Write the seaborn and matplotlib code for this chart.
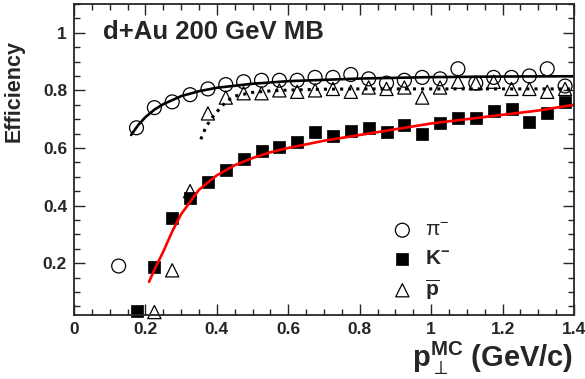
import matplotlib
matplotlib.use("Agg")
import matplotlib.pyplot as plt
from matplotlib.ticker import MultipleLocator, FormatStrFormatter
import pandas as pd
import seaborn as sns

pt_pi = [0.125, 0.175, 0.225, 0.275, 0.325, 0.375, 0.425, 0.475, 0.525, 0.575,
         0.625, 0.675, 0.725, 0.775, 0.825, 0.875, 0.925, 0.975, 1.025, 1.075,
         1.125, 1.175, 1.225, 1.275, 1.325, 1.375]
eff_pi = [0.19, 0.67, 0.74, 0.76, 0.785, 0.805, 0.82, 0.83, 0.835, 0.835,
          0.835, 0.845, 0.845, 0.855, 0.84, 0.825, 0.835, 0.845, 0.84, 0.875,
          0.825, 0.845, 0.845, 0.85, 0.875, 0.815]

pt_k = [0.175, 0.225, 0.275, 0.325, 0.375, 0.425, 0.475, 0.525, 0.575, 0.625,
        0.675, 0.725, 0.775, 0.825, 0.875, 0.925, 0.975, 1.025, 1.075, 1.125,
        1.175, 1.225, 1.275, 1.325, 1.375]
eff_k = [0.035, 0.185, 0.355, 0.425, 0.48, 0.525, 0.56, 0.59, 0.605, 0.62,
         0.655, 0.64, 0.66, 0.67, 0.655, 0.68, 0.65, 0.685, 0.705, 0.705,
         0.73, 0.735, 0.69, 0.72, 0.76]

pt_p = [0.225, 0.275, 0.325, 0.375, 0.425, 0.475, 0.525, 0.575, 0.625, 0.675,
        0.725, 0.775, 0.825, 0.875, 0.925, 0.975, 1.025, 1.075, 1.125, 1.175,
        1.225, 1.275, 1.325, 1.375]
eff_p = [0.03, 0.175, 0.45, 0.72, 0.775, 0.79, 0.79, 0.80, 0.795, 0.80,
         0.805, 0.795, 0.81, 0.805, 0.81, 0.775, 0.81, 0.83, 0.825, 0.83,
         0.805, 0.805, 0.795, 0.805]

# fit curves
fit_pi_x = [0.16, 0.18, 0.20, 0.225, 0.25, 0.30, 0.35, 0.40, 0.50, 0.60, 0.80, 1.0, 1.2, 1.4]
fit_pi_y = [0.645, 0.68, 0.707, 0.733, 0.752, 0.78, 0.797, 0.809, 0.823, 0.832, 0.841, 0.846, 0.848, 0.849]

fit_k_x = [0.21, 0.23, 0.25, 0.275, 0.30, 0.35, 0.40, 0.45, 0.50, 0.55, 0.60,
           0.70, 0.80, 0.90, 1.0, 1.1, 1.2, 1.3, 1.4]
fit_k_y = [0.135, 0.19, 0.24, 0.31, 0.37, 0.455, 0.505, 0.54, 0.565, 0.585, 0.60,
           0.625, 0.645, 0.665, 0.685, 0.70, 0.715, 0.73, 0.75]

fit_p_x = [0.355, 0.37, 0.39, 0.41, 0.43, 0.45, 0.50, 0.55, 0.60, 0.70, 0.80, 1.0, 1.4]
fit_p_y = [0.63, 0.675, 0.71, 0.74, 0.765, 0.78, 0.793, 0.798, 0.801, 0.804, 0.805, 0.805, 0.805]

sns.set_style("ticks")
plt.rcParams["font.family"] = ["Liberation Sans", "DejaVu Sans"]
plt.rcParams["mathtext.fontset"] = "custom"
plt.rcParams["mathtext.rm"] = "Liberation Sans"
plt.rcParams["mathtext.it"] = "Liberation Sans:italic"
plt.rcParams["mathtext.bf"] = "Liberation Sans:bold"

fig = plt.figure(figsize=(5.85, 3.79), dpi=100)
ax = fig.add_axes([0.1265, 0.169, 0.8547, 0.8205])

# fit lines
sns.lineplot(x=fit_pi_x, y=fit_pi_y, color="black", lw=1.9, ax=ax, sort=False, estimator=None)
sns.lineplot(x=fit_k_x, y=fit_k_y, color="red", lw=1.9, ax=ax, sort=False, estimator=None)
sns.lineplot(x=fit_p_x, y=fit_p_y, color="black", lw=2.2, ls=":", ax=ax, sort=False, estimator=None)

# data points
sns.scatterplot(x=pt_pi, y=eff_pi, marker="o", s=100, facecolor="none",
                edgecolor="black", linewidth=0.9, label=r"$\mathrm{\pi}^{-}$", ax=ax, clip_on=False)
sns.scatterplot(x=pt_k, y=eff_k, marker="s", s=85, color="black",
                edgecolor="black", linewidth=0.5, label=r"$\mathbf{K}^{\mathbf{-}}$", ax=ax, clip_on=False)
sns.scatterplot(x=pt_p, y=eff_p, marker="^", s=90, facecolor="none",
                edgecolor="black", linewidth=0.9, label=r"$\overline{\mathbf{p}}$", ax=ax, clip_on=False)

ax.set_xlim(0, 1.4)
ax.set_ylim(0.02, 1.1)
ax.xaxis.set_major_locator(MultipleLocator(0.2))
ax.xaxis.set_minor_locator(MultipleLocator(0.05))
ax.yaxis.set_major_locator(MultipleLocator(0.2))
ax.yaxis.set_minor_locator(MultipleLocator(0.05))
ax.xaxis.set_major_formatter(FormatStrFormatter("%g"))
ax.yaxis.set_major_formatter(FormatStrFormatter("%g"))
ax.tick_params(which="both", direction="in", top=True, right=True, width=1.0)
ax.tick_params(which="major", length=8, labelsize=12.5, pad=5)
ax.tick_params(which="minor", length=4.5)
for lab in ax.get_xticklabels() + ax.get_yticklabels():
    lab.set_fontweight("bold")
for sp in ax.spines.values():
    sp.set_linewidth(1.3)

ax.set_ylabel("Efficiency", fontsize=15.5, fontweight="bold")
ax.yaxis.set_label_coords(-0.098, 0.72)
ax.set_xlabel(r"$\mathbf{p}_{\perp}^{\mathbf{MC}}\ \mathbf{(GeV/c)}$", fontsize=21, loc="right")
ax.xaxis.set_label_coords(0.998, -0.08)

ax.text(0.08, 0.979, "d+Au 200 GeV MB", fontsize=18.5, fontweight="bold", ha="left", va="baseline")

leg = ax.legend(loc="upper left", bbox_to_anchor=(0.615, 0.33), frameon=False,
                fontsize=15, handletextpad=0.5, labelspacing=0.45, handlelength=1.2,
                borderaxespad=0)

fig.savefig("out.png", dpi=100)
